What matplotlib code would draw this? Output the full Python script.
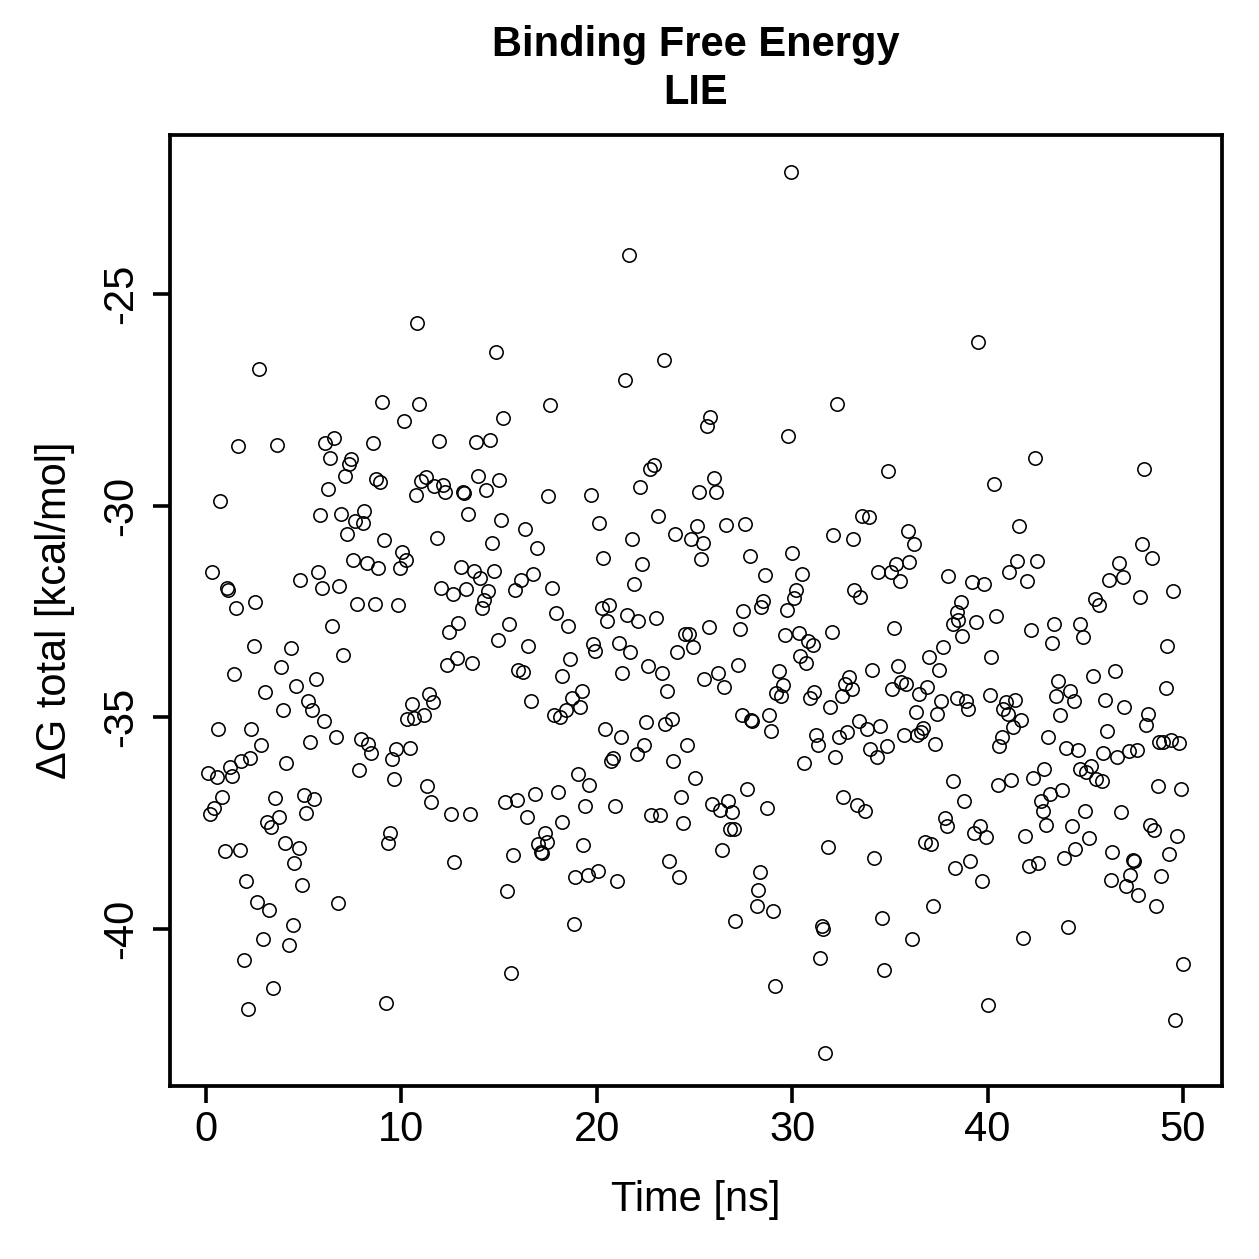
import matplotlib
matplotlib.use("Agg")
import matplotlib.pyplot as plt

plt.rcParams['font.family'] = ['Liberation Sans', 'DejaVu Sans']

title_lines = ["Binding Free Energy", "LIE"]
x_label = "Time [ns]"
y_label = "ΔG total [kcal/mol]"
x_ticks = [0, 10, 20, 30, 40, 50]
y_ticks = [-40, -35, -30, -25]

time_ns = [
    2.73, 1.64, 3.62, 6.11, 6.53, 6.35, 7.42, 7.34, 7.13, 6.23, 0.73, 5.83, 6.93, 8.10, 7.61, 8.02,
    7.23, 7.51, 8.22, 0.32, 5.73, 4.83, 1.06, 1.14, 5.94, 6.82, 2.52, 1.55, 7.74,
    6.43, 2.44, 4.33, 7.03, 1.43, 3.84, 5.63, 4.61, 3.04, 5.24, 5.44, 3.94, 6.02, 0.63, 2.32, 2.83,
    5.32, 6.64, 7.92, 8.29, 8.44, 7.83, 0.12, 0.55, 1.23, 1.33, 1.81, 2.25, 4.11, 0.84, 0.41, 0.20,
    3.53, 5.03, 5.53, 5.12, 3.74, 3.10, 3.33, 4.03, 4.74, 4.52, 0.96, 1.72, 2.03, 4.93, 6.74, 2.63,
    3.22, 4.44, 2.93, 4.23, 1.94, 3.43, 2.13,
    10.81, 14.83, 9.02, 10.92, 17.62, 10.13, 15.22, 8.53, 11.92, 13.82, 14.52, 8.72, 8.92, 11.24,
    11.00, 11.69, 12.13, 12.23, 10.73, 13.14, 13.22, 13.94, 14.33, 15.01, 17.52, 13.42, 15.11, 16.33,
    9.13, 11.82, 14.62, 16.92, 10.01, 10.24, 8.82, 9.93, 13.03, 13.72, 14.02, 14.72, 16.72, 16.12,
    15.81, 17.71, 12.03, 12.62, 13.31, 14.43, 14.22, 14.11, 8.65, 9.81, 17.91,
    12.91, 12.44, 15.51, 14.93, 16.50, 12.83, 12.33, 13.61, 15.99, 16.24, 18.20, 16.62, 11.43, 11.63,
    10.54, 10.30, 10.64, 11.14, 17.81, 18.10, 9.72, 10.44, 9.52, 9.62, 11.33, 11.53, 12.54, 13.53,
    15.30, 15.93, 16.84, 18.03, 18.20, 16.43, 17.33, 17.43, 16.99, 17.14, 17.21, 9.42, 9.31, 15.71,
    12.71, 15.42, 15.61, 9.23,
    21.63, 23.42, 21.43, 25.81, 25.62, 22.93, 22.72, 22.21, 19.72, 26.01, 25.23, 26.12, 20.13, 23.12,
    21.82, 24.02, 25.11, 24.82, 25.42, 26.61, 27.60, 20.32, 22.33, 25.33, 27.82, 21.92, 20.25, 20.62,
    21.53, 23.01, 27.50,
    18.53, 20.51, 22.11, 25.72, 27.33, 24.51, 24.73, 19.82, 19.93, 21.12, 21.72, 24.12, 24.92, 27.21,
    18.63, 21.31, 22.62, 23.32, 23.61, 25.50, 26.21, 26.51, 19.23, 18.72, 19.14, 18.42, 20.42, 21.22,
    22.52, 23.51, 23.83, 27.41, 27.87, 27.97, 22.42, 22.04, 24.60, 20.81, 20.71, 23.92, 25.03, 27.71,
    19.02, 19.62, 19.41, 20.92, 24.31, 22.77, 23.22, 24.43, 25.91, 26.31, 26.73, 26.93, 26.82, 27.02,
    26.42, 19.31, 23.71, 24.22, 18.88, 19.53, 20.05, 21.02, 18.82, 27.10,
    29.92, 32.31, 29.80, 34.92, 33.59, 33.93, 32.10, 33.09, 35.91, 36.22, 30.00, 28.61, 30.52, 34.41,
    35.04, 35.33, 35.50, 35.99, 37.99, 33.18, 33.49, 30.19, 30.11, 28.52, 28.40, 29.72,
    29.61, 30.33, 30.82, 31.05, 32.02, 35.23, 30.40, 30.71, 29.31, 29.53, 29.19, 29.43, 28.81, 28.91,
    31.10, 30.91, 31.92, 32.92, 32.70, 33.05, 32.53, 34.10, 35.40, 35.55, 35.82, 35.11, 37.00, 37.70,
    37.51, 36.91, 36.49, 37.61, 37.40, 36.32, 31.22, 31.34, 32.41, 32.82, 32.21, 30.62, 33.42, 33.83,
    34.49, 34.00, 34.32, 34.84, 35.72, 36.39, 36.58, 36.71, 37.31, 28.71, 32.62, 33.32, 33.71, 37.80,
    37.91, 36.80, 37.10, 31.82, 34.20, 28.35, 28.27, 28.18, 29.00, 31.51, 31.59, 34.61, 37.22, 36.11,
    31.41, 34.71, 29.10, 31.70,
    39.51, 42.41, 48.00, 40.31, 41.61, 47.90, 48.40, 41.52, 41.11, 42.51, 42.02, 39.22, 39.82, 38.62,
    46.71, 46.23, 46.91, 49.50, 47.78, 45.50, 45.70, 40.41, 38.43,
    38.50, 38.25, 39.41, 38.70, 40.19, 42.20, 43.41, 43.30, 44.73, 44.90, 49.20, 49.11, 45.41, 46.50,
    43.60, 43.50, 44.20, 44.41, 43.71, 45.99, 47.00, 48.21, 48.11, 46.09, 38.42, 38.91, 39.01, 40.12,
    40.94, 41.42, 40.79, 41.06, 41.69, 41.31, 40.72, 40.60, 43.09, 44.00, 44.61, 45.91, 46.61, 47.22,
    47.63, 48.79, 48.99, 49.39, 49.81, 38.21, 40.52, 41.21, 42.31, 42.90, 44.74, 45.02, 45.31, 45.53,
    45.84, 48.70, 49.91, 38.79, 43.19, 43.81, 42.72, 42.82, 44.98, 46.81, 48.31, 48.52, 49.69, 39.61,
    39.30, 39.90, 41.91, 43.00, 44.30, 45.21, 44.49, 43.91, 42.10, 42.60, 38.33, 39.11, 39.70, 46.37,
    47.43, 47.49, 47.30, 49.28, 46.30, 47.10, 47.71, 48.89, 48.60, 44.10, 41.81, 50.00, 40.02, 49.61,
]

dg_total = [
    -26.78, -28.58, -28.56, -28.51, -28.40, -28.88, -28.90, -29.02, -29.29, -29.61, -29.89, -30.22,
    -30.20, -30.12, -30.36, -30.40, -30.68, -31.29, -31.36, -31.57, -31.56, -31.77, -31.95, -31.99,
    -31.95, -31.89, -32.29, -32.43, -32.33,
    -32.84, -33.32, -33.37, -33.53, -33.98, -33.82, -34.10, -34.26, -34.41, -34.61, -34.83, -34.83,
    -35.10, -35.29, -35.28, -35.66, -35.58, -35.46, -35.52, -35.63, -35.85, -36.24, -36.32, -36.42,
    -36.19, -36.39, -36.03, -35.96, -36.08, -36.89, -37.15, -37.28, -36.91, -36.85, -36.94, -37.27,
    -37.37, -37.49, -37.60, -37.98, -38.10, -38.44, -38.16, -38.14, -38.87, -38.96, -39.39, -39.38,
    -39.56, -39.91, -40.24, -40.38, -40.74, -41.40, -41.91,
    -25.69, -26.38, -27.55, -27.60, -27.62, -27.99, -27.93, -28.52, -28.48, -28.50, -28.46, -29.36,
    -29.45, -29.33, -29.43, -29.53, -29.51, -29.69, -29.75, -29.68, -29.71, -29.30, -29.64, -29.40,
    -29.77, -30.20, -30.34, -30.56, -30.81, -30.76, -30.88, -31.01, -31.10, -31.29, -31.48, -31.48,
    -31.46, -31.54, -31.70, -31.54, -31.62, -31.77, -32.00, -31.94, -31.95, -32.09, -31.97, -32.01,
    -32.23, -32.41, -32.32, -32.36, -32.54,
    -32.78, -32.98, -32.79, -33.17, -33.32, -33.61, -33.78, -33.73, -33.89, -33.93, -34.04, -34.62,
    -34.46, -34.65, -34.69, -35.04, -35.02, -34.95, -34.95, -35.00, -35.76, -35.73, -35.99, -36.47,
    -36.62, -37.00, -37.28, -37.30, -37.01, -36.95, -36.81, -36.78, -37.47, -37.36, -37.73, -37.95,
    -38.00, -38.19, -38.21, -37.74, -37.97, -38.25, -38.43, -39.12, -41.05, -41.76,
    -24.08, -26.56, -27.02, -27.91, -28.11, -29.04, -29.14, -29.57, -29.76, -29.35, -29.69, -29.68,
    -30.40, -30.24, -30.80, -30.68, -30.48, -30.80, -30.88, -30.46, -30.43, -31.23, -31.38, -31.27,
    -31.19, -31.85, -32.41, -32.35, -32.58, -32.66, -32.50,
    -32.84, -32.73, -32.73, -32.86, -32.91, -33.04, -33.04, -33.27, -33.43, -33.24, -33.47, -33.45,
    -33.35, -33.76, -33.63, -33.96, -33.80, -33.96, -34.38, -34.10, -33.95, -34.28, -34.38, -34.55,
    -34.75, -34.83, -35.28, -35.46, -35.12, -35.17, -35.04, -34.96, -35.06, -35.09, -35.67, -35.87,
    -35.65, -35.97, -36.04, -36.03, -36.43, -36.70, -36.35, -36.61, -37.10, -37.11, -36.90, -37.32,
    -37.31, -37.50, -37.05, -37.19, -36.99, -37.25, -37.64, -37.64, -38.13, -38.03, -38.41, -38.77,
    -38.78, -38.73, -38.63, -38.88, -39.88, -39.83,
    -22.11, -27.60, -28.36, -29.18, -30.24, -30.28, -30.69, -30.80, -30.60, -30.91, -31.13, -31.65,
    -31.61, -31.56, -31.58, -31.39, -31.78, -31.33, -31.66, -31.99, -32.15, -31.99, -32.19, -32.25,
    -32.39, -32.47,
    -33.07, -33.02, -33.21, -33.29, -32.98, -32.90, -33.55, -33.71, -33.91, -34.24, -34.43, -34.49,
    -34.94, -35.34, -34.41, -34.54, -34.77, -34.06, -34.21, -34.34, -34.50, -33.88, -33.80, -34.16,
    -34.21, -34.34, -33.58, -33.35, -33.88, -34.28, -34.45, -34.63, -34.92, -34.87, -35.42, -35.67,
    -35.47, -35.36, -35.95, -36.09, -35.09, -35.28, -35.20, -35.76, -35.95, -35.69, -35.42, -35.42,
    -35.36, -35.26, -35.63, -37.14, -36.89, -37.07, -37.23, -37.39, -37.57, -37.95, -38.00, -38.08,
    -38.33, -38.65, -39.08, -39.47, -39.59, -39.93, -40.00, -39.75, -39.47, -40.24, -40.69, -40.97,
    -41.36, -42.94,
    -26.14, -28.88, -29.13, -29.49, -30.48, -30.91, -31.25, -31.30, -31.57, -31.31, -31.78, -31.80,
    -31.86, -32.27, -31.36, -31.76, -31.68, -32.01, -32.17, -32.21, -32.35, -32.60, -32.51,
    -32.70, -32.80, -32.76, -33.08, -33.58, -32.95, -32.80, -33.25, -32.80, -33.10, -33.32, -34.32,
    -34.02, -33.91, -34.14, -34.49, -34.38, -34.61, -34.95, -34.60, -34.76, -34.93, -35.18, -35.32,
    -34.54, -34.62, -34.80, -34.47, -34.65, -34.59, -34.80, -34.92, -35.07, -35.24, -35.47, -35.69,
    -35.48, -35.72, -35.78, -35.84, -35.94, -35.81, -35.77, -35.58, -35.60, -35.55, -35.61, -36.52,
    -36.60, -36.48, -36.43, -36.22, -36.22, -36.30, -36.15, -36.47, -36.51, -36.62, -36.69, -36.98,
    -36.81, -36.72, -36.98, -37.21, -37.21, -37.25, -37.54, -37.67, -37.80, -37.58, -37.75, -37.84,
    -37.82, -37.55, -37.58, -37.86, -38.11, -38.33, -38.52, -38.44, -38.56, -38.39, -38.88, -38.18,
    -38.38, -38.41, -38.74, -38.24, -38.84, -38.99, -39.21, -38.76, -39.46, -39.95, -40.23, -40.84,
    -41.80, -42.17,
]

W = H = 1259
fig = plt.figure(figsize=(W / 100, H / 100), dpi=100)
ax = fig.add_axes([170 / W, 1 - 1086 / H, 1052 / W, 951 / H])

ax.plot(time_ns, dg_total, linestyle='none', marker='o', markersize=9.6,
        markerfacecolor='none', markeredgecolor='black', markeredgewidth=1.15)

ax.set_xlim(-1.84, 52.0)
ax.set_ylim(-43.72, -21.24)
ax.set_xticks(x_ticks)
ax.set_yticks(y_ticks)
ax.set_xticklabels([str(t) for t in x_ticks])
ax.set_yticklabels([str(t) for t in y_ticks], rotation=90, va='center')

for sp in ax.spines.values():
    sp.set_linewidth(2.7)
    sp.set_color('black')

ax.tick_params(axis='both', direction='out', length=12.2, width=2.6,
               labelsize=30, colors='black')
ax.tick_params(axis='x', pad=5)
ax.tick_params(axis='y', pad=8.6)

fig.text(696 / W, 1 - 45 / H, title_lines[0], ha='center', va='center',
         fontsize=30, fontweight='bold')
fig.text(696 / W, 1 - 93 / H, title_lines[1], ha='center', va='center',
         fontsize=30, fontweight='bold')
fig.text(696 / W, 1 - 1200 / H, x_label, ha='center', va='center', fontsize=30)
fig.text(55 / W, 1 - 610 / H, y_label, ha='center', va='center', fontsize=30,
         rotation=90)

fig.savefig("out.png", dpi=100)
